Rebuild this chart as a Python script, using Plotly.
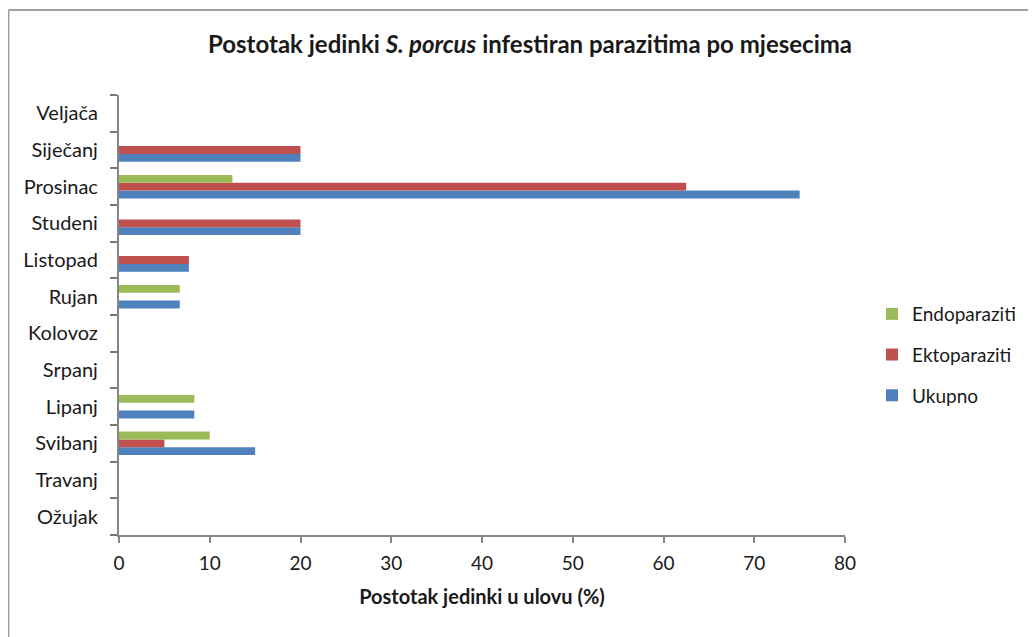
import plotly.graph_objects as go

months = ["Ožujak", "Travanj", "Svibanj", "Lipanj", "Srpanj", "Kolovoz",
          "Rujan", "Listopad", "Studeni", "Prosinac", "Siječanj", "Veljača"]
ukupno = [0, 0, 15, 8.3, 0, 0, 6.7, 7.7, 20, 75, 20, 0]
ektoparaziti = [0, 0, 5, 0, 0, 0, 0, 7.7, 20, 62.5, 20, 0]
endoparaziti = [0, 0, 10, 8.3, 0, 0, 6.7, 0, 0, 12.5, 0, 0]
x_ticks = [0, 10, 20, 30, 40, 50, 60, 70, 80]

FONT = "Lato, 'Open Sans', sans-serif"
OFF = 8  # browser default body margin
W, H = 1036 - OFF, 637 - OFF
L, R, T, B = 119 - OFF, 191, 95 - OFF, 102
pw, ph = W - L - R, H - T - B

fig = go.Figure()
series = [("Ukupno", ukupno, "#4F81BD", 3),
          ("Ektoparaziti", ektoparaziti, "#C0504D", 2),
          ("Endoparaziti", endoparaziti, "#9BBB59", 1)]
for name, vals, col, rank in series:
    fig.add_trace(go.Bar(y=months, x=vals, name=name, orientation="h",
                         marker=dict(color=col, line=dict(width=0)),
                         legendgroup=name, legendrank=rank))

def px2x(px):  # px in page coordinates
    return (px - OFF - L) / pw

def px2y(py):
    return (H - B - (py - OFF)) / ph

fig.update_layout(
    width=W, height=H,
    margin=dict(l=L, r=R, t=T, b=B),
    paper_bgcolor="white", plot_bgcolor="white",
    barmode="group", bargap=0.36, bargroupgap=0,
    font=dict(family=FONT, size=19, color="#1a1a1a"),
    title=dict(text="<b>Postotak jedinki <i>S. porcus</i> infestiran parazitima po mjesecima</b>",
               x=(530 - OFF) / W, xanchor="center", y=1 - (45 - OFF) / H, yanchor="middle",
               font=dict(size=24, family=FONT, color="#1a1a1a")),
    xaxis=dict(range=[0, 80], tickvals=x_ticks, showgrid=False, zeroline=False,
               showline=True, linecolor="#868686", linewidth=1.5,
               ticks="outside", ticklen=6, tickwidth=1.5, tickcolor="#868686",
               tickfont=dict(size=19), ticklabelstandoff=4,
               title=dict(text="<b>Postotak jedinki u ulovu (%)</b>",
                          font=dict(size=20), standoff=17)),
    yaxis=dict(categoryorder="array", categoryarray=months, showgrid=False,
               zeroline=False, showline=True, linecolor="#868686", linewidth=1.5,
               ticks="outside", ticklen=7, tickwidth=2, tickcolor="#777777",
               tickson="boundaries", tickfont=dict(size=20),
               ticksuffix="\u00a0\u00a0\u00a0"),
    legend=dict(traceorder="grouped", x=px2x(872), xanchor="left",
                y=px2y(355), yanchor="middle", tracegroupgap=13,
                font=dict(size=19), itemwidth=30, bgcolor="rgba(0,0,0,0)"),
    shapes=[
        dict(type="line", xref="paper", yref="paper",
             x0=px2x(8.5), x1=px2x(8.5), y0=px2y(10), y1=px2y(H + OFF + 5),
             line=dict(color="#a0a0a0", width=2)),
        dict(type="line", xref="paper", yref="paper",
             x0=px2x(8.5), x1=px2x(W + OFF + 5), y0=px2y(10), y1=px2y(10),
             line=dict(color="#a0a0a0", width=2)),
    ],
)

fig.write_html("out.html")
